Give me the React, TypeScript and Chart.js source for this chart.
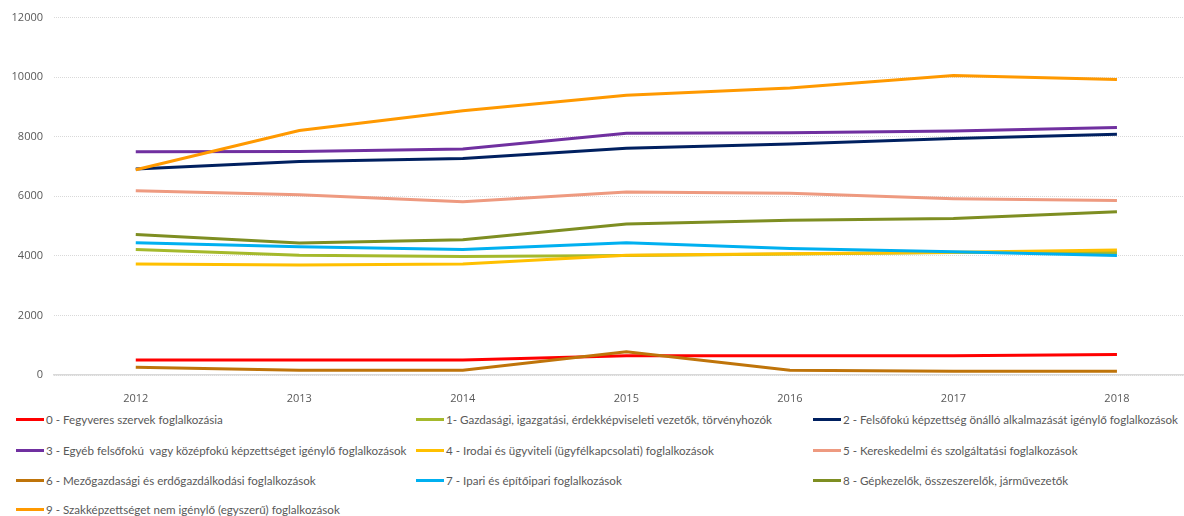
import React, { useEffect, useRef } from "react";
import { Chart, registerables } from "chart.js";
Chart.register(...registerables);

const years = [2012, 2013, 2014, 2015, 2016, 2017, 2018];
const yTicks = [0, 2000, 4000, 6000, 8000, 10000, 12000];

const s0 = [500, 500, 500, 650, 650, 650, 690];
const s1 = [4210, 4020, 3980, 4010, 4060, 4110, 4110];
const s2 = [6920, 7170, 7270, 7610, 7760, 7940, 8080];
const s3 = [7500, 7505, 7590, 8115, 8130, 8190, 8310];
const s4 = [3730, 3690, 3730, 4020, 4070, 4120, 4200];
const s5 = [6190, 6050, 5820, 6145, 6100, 5920, 5860];
const s6 = [260, 160, 160, 780, 160, 125, 125];
const s7 = [4440, 4310, 4210, 4440, 4250, 4135, 4015];
const s8 = [4720, 4430, 4540, 5070, 5200, 5255, 5480];
const s9 = [6890, 8210, 8875, 9395, 9640, 10060, 9920];

const labels = [
  "0 - Fegyveres szervek foglalkozásia",
  "1- Gazdasági, igazgatási, érdekképviseleti vezetők, törvényhozók",
  "2 - Felsőfokú képzettség önálló alkalmazását igénylő foglalkozások",
  "3 - Egyéb felsőfokú  vagy középfokú képzettséget igénylő foglalkozások",
  "4 - Irodai és ügyviteli (ügyfélkapcsolati) foglalkozások",
  "5 - Kereskedelmi és szolgáltatási foglalkozások",
  "6 - Mezőgazdasági és erdőgazdálkodási foglalkozások",
  "7 - Ipari és építőipari foglalkozások",
  "8 - Gépkezelők, összeszerelők, járművezetők",
  "9 - Szakképzettséget nem igénylő (egyszerű) foglalkozások",
];
const series = [s0, s1, s2, s3, s4, s5, s6, s7, s8, s9];
const colors = [
  "#FF0000",
  "#A5B92C",
  "#002060",
  "#7030A0",
  "#FFC000",
  "#EE9A80",
  "#BF740A",
  "#00B0F0",
  "#7E8E22",
  "#FF9900",
];

const FONT = "'Open Sans', sans-serif";
const LEGEND_FONT = "Lato, sans-serif";
const TEXT = "#595959";

const legendCols = [16, 416, 813];
const legendRows = [419, 450, 480, 509];

export default function App() {
  const ref = useRef<HTMLCanvasElement | null>(null);
  useEffect(() => {
    if (!ref.current) return;
    const chart = new Chart(ref.current, {
      type: "line",
      data: {
        datasets: series.map((s, i) => ({
          label: labels[i],
          data: s.map((v, j) => ({ x: years[j], y: v })),
          borderColor: colors[i],
          backgroundColor: colors[i],
          borderWidth: 3,
          pointRadius: 0,
          tension: 0,
          fill: false,
          order: -i,
        })),
      },
      options: {
        animation: false,
        responsive: false,
        layout: { padding: { top: 17, right: 0, left: 0, bottom: 0 } },
        plugins: { legend: { display: false }, tooltip: { enabled: false } },
        scales: {
          x: {
            type: "linear",
            min: 2011.5,
            max: 2018.41,
            afterBuildTicks: (scale: any) => {
              scale.ticks = years.map((v) => ({ value: v }));
            },
            afterFit: (scale: any) => {
              scale.height = 30;
            },
            grid: { display: false },
            border: { display: true, color: "#D9D9D9", width: 1.5 },
            ticks: {
              color: TEXT,
              font: { family: FONT, size: 11 },
              padding: 9,
              maxRotation: 0,
              autoSkip: false,
              callback: (v: any) => String(v),
            },
          },
          y: {
            min: 0,
            max: 12000,
            afterBuildTicks: (scale: any) => {
              scale.ticks = yTicks.map((v) => ({ value: v }));
            },
            afterFit: (scale: any) => {
              scale.width = 54;
            },
            grid: { color: "#D9D9D9", lineWidth: 1, drawTicks: false },
            border: { display: false, dash: [1, 1] },
            ticks: {
              color: TEXT,
              font: { family: FONT, size: 11 },
              padding: 11,
              callback: (v: any) => String(v),
            },
          },
        },
      },
    });
    return () => chart.destroy();
  }, []);

  return (
    <div
      style={{
        position: "absolute",
        left: 0,
        top: 0,
        width: 1184,
        height: 516,
        background: "#fff",
        fontFamily: LEGEND_FONT,
      }}
    >
      <canvas ref={ref} width={1184} height={405} style={{ display: "block" }} />
      {labels.map((lab, i) => {
        const col = i % 3;
        const row = Math.floor(i / 3);
        return (
          <div
            key={i}
            style={{
              position: "absolute",
              left: legendCols[col],
              top: legendRows[row] - 8,
              height: 16,
              display: "flex",
              alignItems: "center",
              whiteSpace: "pre",
              fontSize: 11.6,
              color: TEXT,
            }}
          >
            <span
              style={{
                display: "inline-block",
                width: 28,
                height: 3,
                background: colors[i],
                marginRight: 2,
              }}
            />
            <span>{lab}</span>
          </div>
        );
      })}
    </div>
  );
}
